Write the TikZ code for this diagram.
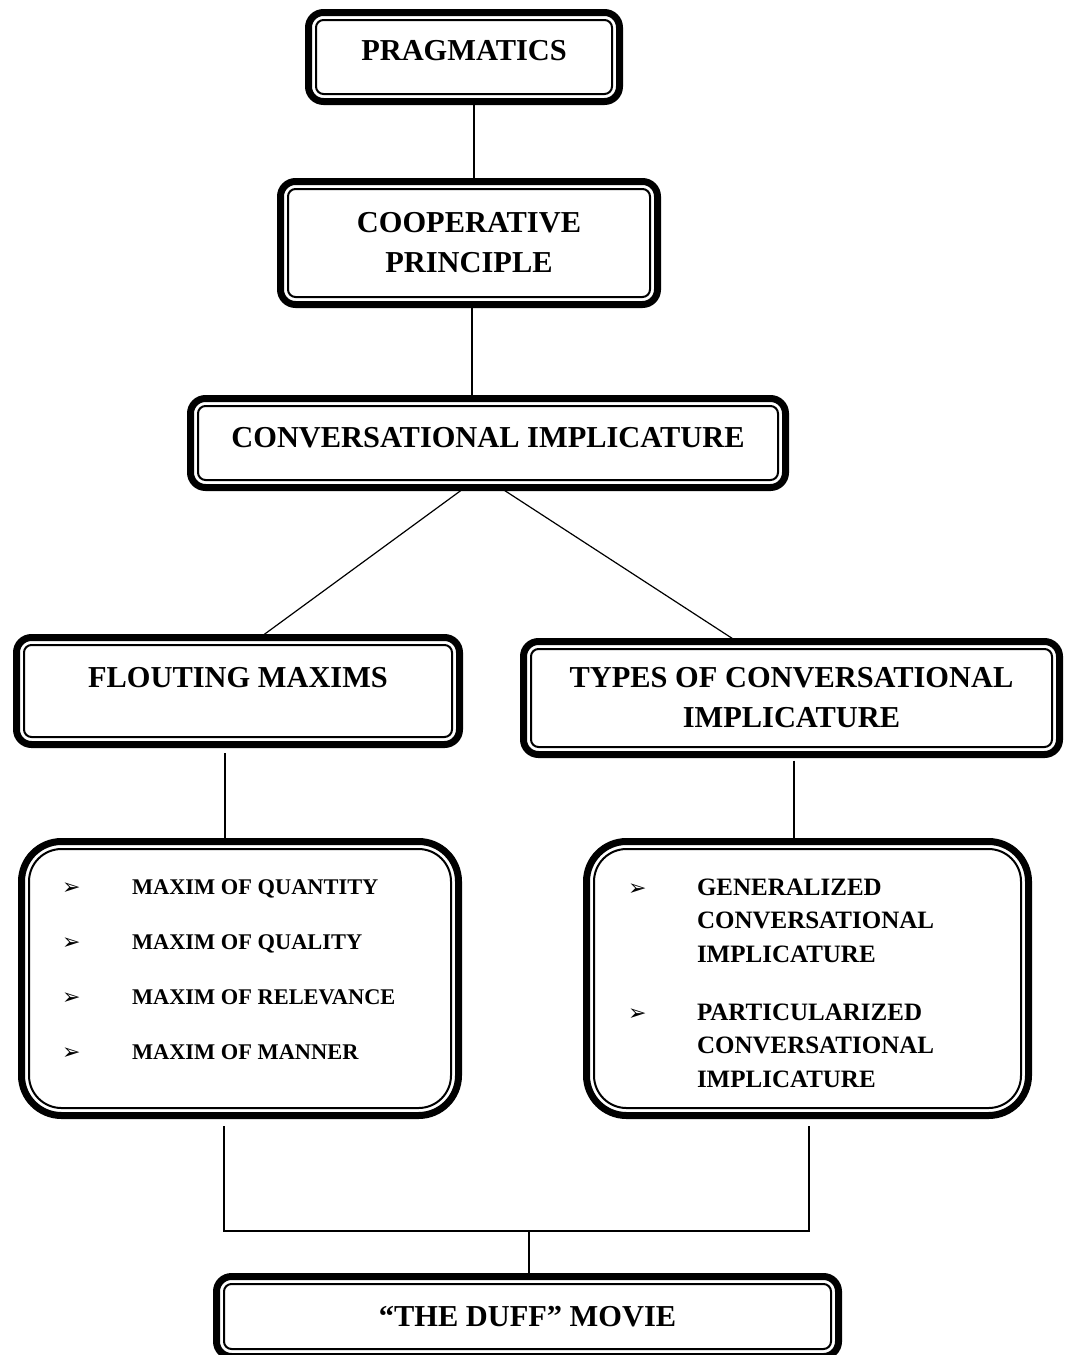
\documentclass[tikz,border=0pt]{standalone}
\usepackage{fontspec}
\setmainfont{Liberation Serif}
\newfontfamily\symb{DejaVu Sans}
\usepackage{array}

\begin{document}
\begin{tikzpicture}[x=0.5pt, y=-0.5pt,
    box/.style={draw, line width=3.5pt, rounded corners=7.5pt, inner sep=0pt, outer sep=0pt,
        align=center, font=\bfseries\fontsize{15.2}{20}\selectfont},
    listbox/.style={box, rounded corners=20pt},
    frame/.style={line width=1pt},
    link/.style={line width=0.6pt}]

    % Page size
    \def\pagew{1065}
    \def\pageh{1355}
    \def\inset{3.75pt} % outer frame to inner frame
    \def\bul{{\symb\fontsize{11}{11}\selectfont ➢}}
    \useasboundingbox (0,0) rectangle (\pagew,\pageh);

    % Boxes
    \node[box, minimum width=155.5pt, minimum height=44.5pt, text depth=7pt] (prag) at (464,57) {PRAGMATICS};
    \node[box, minimum width=188.5pt, minimum height=61.5pt] (coop) at (469,243) {COOPERATIVE\\PRINCIPLE};
    \node[box, minimum width=297.5pt, minimum height=44.5pt, text depth=6pt] (conv) at (488,443) {CONVERSATIONAL IMPLICATURE};
    \node[box, minimum width=221.5pt, minimum height=53.5pt, text depth=14pt] (flout) at (238,691) {FLOUTING MAXIMS};
    \node[box, minimum width=268pt, minimum height=56.5pt] (types) at (791.5,698) {TYPES OF CONVERSATIONAL\\IMPLICATURE};

    % Lists
    \node[listbox, minimum width=218.5pt, minimum height=137pt,
        font=\bfseries\fontsize{11.2}{27.5}\selectfont] (maxims) at (240,978.5) {%
        \begin{tabular}{@{}p{35pt}@{}p{143pt}@{}}
            \bul & MAXIM OF QUANTITY\\
            \bul & MAXIM OF QUALITY\\
            \bul & MAXIM OF RELEVANCE\\
            \bul & MAXIM OF MANNER\\[13pt]
        \end{tabular}};
    \node[listbox, minimum width=221pt, minimum height=137pt,
        font=\bfseries\fontsize{12.5}{16.75}\selectfont] (kinds) at (807.5,978.5) {%
        \begin{tabular}{@{}p{34.5pt}@{}p{145pt}@{}}
            \rule{0pt}{17.7pt}\bul & GENERALIZED\\
            & CONVERSATIONAL\\
            & IMPLICATURE\\[12.25pt]
            \bul & PARTICULARIZED\\
            & CONVERSATIONAL\\
            & IMPLICATURE
        \end{tabular}};

    \node[box, minimum width=311pt, minimum height=40pt] (duff) at (527.5,1316.5) {``THE DUFF'' MOVIE};

    % Inner thin frames
    \foreach \nd/\rc in {prag/3.75pt,coop/3.75pt,conv/3.75pt,flout/3.75pt,types/3.75pt,maxims/16.25pt,kinds/16.25pt,duff/3.75pt}
    {
        \draw[frame, rounded corners=\rc] ([xshift=\inset, yshift=\inset]\nd.south west)
            rectangle ([xshift=-\inset, yshift=-\inset]\nd.north east);
    }

    % Connecting lines
    \draw[link] ([xshift=5pt]prag.south) -- ([xshift=2.5pt]coop.north);
    \draw[link] ([xshift=1.5pt]coop.south) -- ([xshift=-8pt]conv.north);
    \draw[link] ([xshift=-11.5pt]conv.south) -- ([xshift=11pt]flout.north);
    \draw[link] ([xshift=6pt]conv.south) -- ([xshift=-27.25pt]types.north);
    \draw[link, shorten <=4.25pt] ([xshift=-6.5pt]flout.south) -- ([xshift=-7.5pt]maxims.north);
    \draw[link, shorten <=3pt] ([xshift=1.25pt]types.south) -- ([xshift=-6.75pt]kinds.north);

    % Join to the movie
    \coordinate (join) at (529,1231);
    \draw[link, shorten <=5.25pt, shorten >=5.25pt]
        ([xshift=-8pt]maxims.south) |- (join) -| ([xshift=0.75pt]kinds.south);
    \draw[link] (join) -- (join |- duff.north);

\end{tikzpicture}
\end{document}
